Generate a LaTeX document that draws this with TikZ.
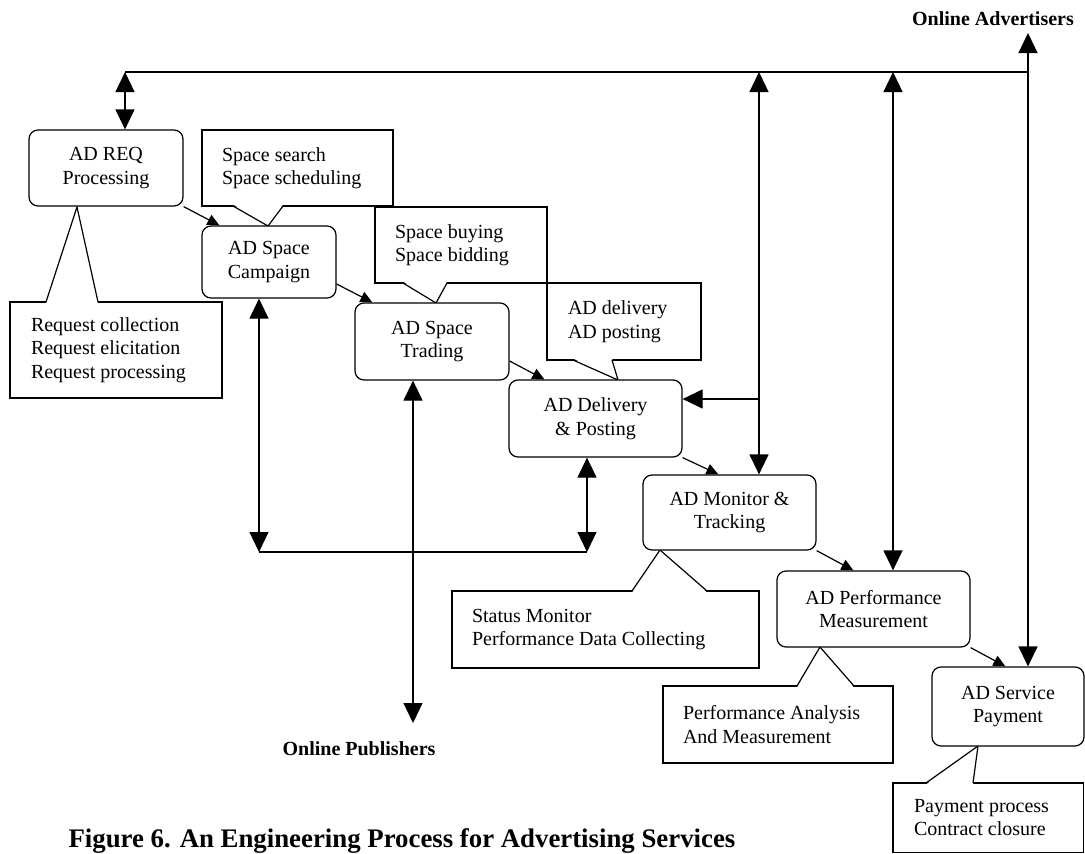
\documentclass[tikz,border=0pt]{standalone}
\usepackage{fontspec}
\setmainfont{Liberation Serif}
\usetikzlibrary{arrows.meta,calc}

\begin{document}
\begin{tikzpicture}[x=1pt,y=-1pt,line width=1.2pt,
  procbox/.style={draw,rounded corners=9pt,fill=white,align=center,inner sep=0pt,
    font=\fontsize{20}{23.5}\selectfont},
  callbox/.style={draw,fill=white,inner sep=0pt},
  calltext/.style={align=left,inner sep=0pt,anchor=west,font=\fontsize{20}{23.5}\selectfont},
  flow/.style={-{Triangle[length=12pt,width=11pt]}},
  link/.style={{Triangle[length=20pt,width=19pt]}-{Triangle[length=20pt,width=19pt]}},
  feed/.style={-{Triangle[length=20pt,width=19pt]}},
  party/.style={font=\bfseries\fontsize{20}{24}\selectfont,inner sep=0pt},
]
\useasboundingbox (0,0) rectangle (1085,854);

% ---------- call-out notes ----------
% requirements note (pointer on top edge)
\node[callbox,minimum width=212pt,minimum height=96pt] (reqc) at (116,350) {};
\fill[white] (46,303.5) -- (77,207) -- (98,303.5) -- cycle;
\draw (46,302) -- (77,207) -- (98,302);
\node[calltext] (reqct) at ([xshift=21pt]reqc.west) {Request collection\\Request elicitation\\Request processing};

% space search note (pointer on bottom edge)
\node[callbox,minimum width=191pt,minimum height=76pt] (srch) at (297.5,168) {};
\fill[white] (233,204.5) -- (268,226) -- (283,204.5) -- cycle;
\draw (233,206) -- (268,226) -- (283,206);
\node[calltext] (srcht) at ([xshift=20pt]srch.west) {Space search\\Space scheduling};

% space buying note
\node[callbox,minimum width=172pt,minimum height=76pt] (buy) at (461,245) {};
\fill[white] (403,281.5) -- (436,303) -- (447,281.5) -- cycle;
\draw (403,283) -- (436,303) -- (447,283);
\node[calltext] (buyt) at ([xshift=20pt]buy.west) {Space buying\\Space bidding};

% delivery note
\node[callbox,minimum width=154pt,minimum height=77pt] (adc) at (624,321.5) {};
\fill[white] (573,358.5) -- (618,380) -- (612,358.5) -- cycle;
\draw (573,360) -- (618,380) -- (612,360);
\node[calltext] (adct) at ([xshift=21pt]adc.west) {AD delivery\\AD posting};

% monitoring note
\node[callbox,minimum width=307pt,minimum height=77pt] (stat) at (605.5,629.5) {};
\fill[white] (632,592.5) -- (660,550) -- (707,592.5) -- cycle;
\draw (632,591) -- (660,550) -- (707,591);
\node[calltext] (statt) at ([xshift=20pt]stat.west) {Status Monitor\\Performance Data Collecting};

% performance note
\node[callbox,minimum width=230pt,minimum height=77pt] (pac) at (778,724.5) {};
\fill[white] (797,687.5) -- (820,647) -- (854,687.5) -- cycle;
\draw (797,686) -- (820,647) -- (854,686);
\node[calltext] (pact) at ([xshift=20pt]pac.west) {Performance Analysis\\And Measurement};

% payment note
\node[callbox,minimum width=190.5pt,minimum height=69.5pt] (payc) at (988.25,817.75) {};
\fill[white] (926,784.5) -- (978,746) -- (973,784.5) -- cycle;
\draw (926,783) -- (978,746) -- (973,783);
\node[calltext] (payct) at ([xshift=21pt]payc.west) {Payment process\\Contract closure};

% ---------- process steps ----------
\node[procbox,minimum width=154pt,minimum height=76pt] (req)   at (106,168)     {AD REQ\\Processing};
\node[procbox,minimum width=134pt,minimum height=72pt] (camp)  at (269,262)     {AD Space\\Campaign};
\node[procbox,minimum width=154pt,minimum height=77pt] (trade) at (432,341.5)   {AD Space\\Trading};
\node[procbox,minimum width=173pt,minimum height=77pt] (deliv) at (595.5,418.5) {AD Delivery\\\& Posting};
\node[procbox,minimum width=173pt,minimum height=75pt] (mon)   at (729.5,512.5) {AD Monitor \&\\Tracking};
\node[procbox,minimum width=193pt,minimum height=76pt] (perf)  at (873.5,609)   {AD Performance\\Measurement};
\node[procbox,minimum width=152pt,minimum height=79pt] (pay)   at (1008,706.5)  {AD Service\\Payment};

% ---------- process flow ----------
\draw[flow] (req.south east) -- ($(camp.north west)+(18,0)$);
\draw[flow] ($(camp.east)+(0,22)$) -- ($(trade.north west)+(18,0)$);
\draw[flow] ($(trade.east)+(0,19.5)$) -- ($(deliv.north west)+(36,0)$);
\draw[flow] (deliv.south east) -- ($(mon.north west)+(76,0)$);
\draw[flow] (mon.south east) -- ($(perf.north west)+(77,0)$);
\draw[flow] (perf.south east) -- ($(pay.north west)+(74,0)$);

% ---------- advertiser bus ----------
\coordinate (tl) at (125,72);
\coordinate (tr) at (1028,72);
\coordinate (m1) at (759,72);
\coordinate (p1) at (893,72);
\coordinate (adv) at (1028,33);
\coordinate (j1) at (759,399);
\draw (tl) -- (tr);
\draw[link] (tl) -- (tl |- req.north);
\draw[link] (m1) -- (m1 |- mon.north);
\draw[feed] (j1) -- (j1 -| deliv.east);
\draw[link] (p1) -- (p1 |- perf.north);
\draw[link] (adv) -- (adv |- pay.north);
\node[party,anchor=base] (advl) at (993,25.5) {Online Advertisers};

% ---------- publisher bus ----------
\coordinate (b1) at (259,552);
\coordinate (b2) at (587,552);
\coordinate (pub) at (413,723);
\draw (b1) -- (b2);
\draw[link] (b1 |- camp.south) -- (b1);
\draw[link] (b2 |- deliv.south) -- (b2);
\draw[link] (pub |- trade.south) -- (pub);
\node[party,anchor=base] (publ) at (359,755) {Online Publishers};

% ---------- caption ----------
\node[anchor=base west,inner sep=0pt,font=\bfseries\fontsize{26.8}{30}\selectfont] (cap) at (68,847)
  {Figure 6. An Engineering Process for Advertising Services};
\end{tikzpicture}
\end{document}
